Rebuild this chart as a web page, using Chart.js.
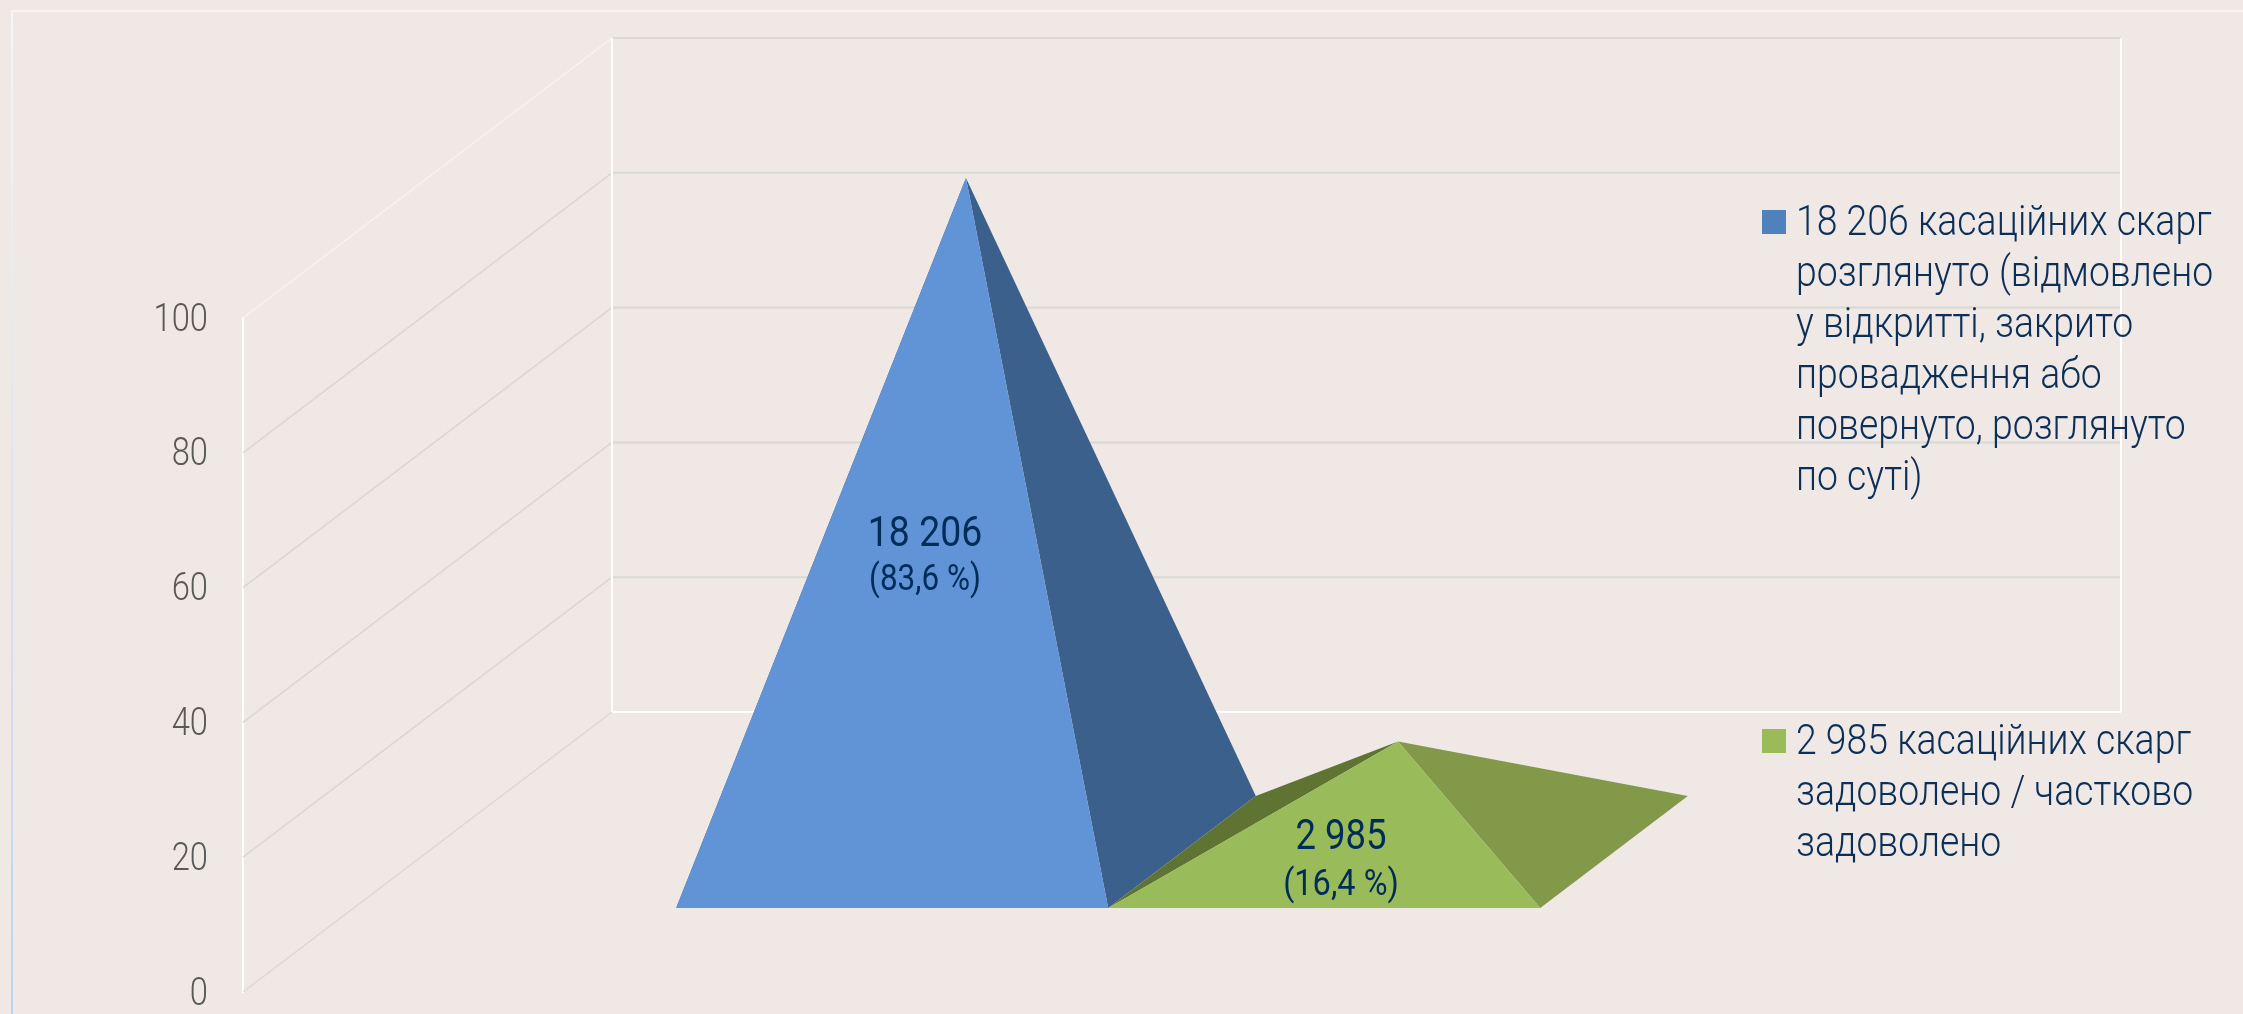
<!DOCTYPE html>
<html>
<head>
<meta charset="utf-8">
<title>Касаційні скарги</title>
<script src="https://cdn.jsdelivr.net/npm/chart.js@4/dist/chart.umd.min.js"></script>
<style>
    html, body { margin: 0; padding: 0; background: #efe8e5; }
    canvas { display: block; }
</style>
</head>
<body>
<canvas id="myChart" width="2243" height="1014"></canvas>
<script>
// ------------
// - Data -
// ------------
const categories = ["Касаційні скарги"];
const seriesHeights = [100, 16.4];
const seriesCounts = ["18 206", "2 985"];
const seriesShares = ["(83,6 %)", "(16,4 %)"];
const tickLabels = [0, 20, 40, 60, 80, 100];
const legendLines = [
    ["18 206 касаційних скарг", "розглянуто (відмовлено", "у відкритті, закрито", "провадження або", "повернуто, розглянуто", "по суті)"],
    ["2 985 касаційних скарг", "задоволено / частково", "задоволено"]
];

// ------------
// - Styles -
// ------------
const faceColors = [
    { front: "#6094d6", right: "#3b608c", left: "#3b608c", key: "#4f81bd" },
    { front: "#9abb59", right: "#82994a", left: "#5f7332", key: "#9bbb59" }
];
const wall = { dx: 369, dy: -280, right: 2121 };  // depth of the 3D box
const textColor = "#0c2f58";
const gridColor = "#d8d8d4";

function path(ctx, pts, color) {
    ctx.fillStyle = color;
    ctx.beginPath();
    ctx.moveTo(pts[0][0], pts[0][1]);
    pts.slice(1).forEach(function (p) { ctx.lineTo(p[0], p[1]); });
    ctx.closePath();
    ctx.fill();
}

function line(ctx, x1, y1, x2, y2, color, width) {
    ctx.strokeStyle = color;
    ctx.lineWidth = width;
    ctx.beginPath();
    ctx.moveTo(x1, y1);
    ctx.lineTo(x2, y2);
    ctx.stroke();
}

// squeeze stands in for a condensed face
function narrowText(ctx, str, x, y, squeeze) {
    ctx.fillText(str, x, y, ctx.measureText(str).width * squeeze);
}

// draws the frame, the 3D walls and the pyramids from the scales
const pyramids = {
    id: "pyramids",
    beforeDatasetsDraw: function (chart) {
        const ctx = chart.ctx;
        const yScale = chart.scales.y;
        const x0 = chart.chartArea.left;
        const bx = x0 + wall.dx;

        ctx.save();
        // outer frame
        const grad = ctx.createLinearGradient(0, 0, 0, 1014);
        grad.addColorStop(0, "#f6f5f6");
        grad.addColorStop(1, "#bcd4f0");
        line(ctx, 12, 11, 2243, 11, "#f6f5f6", 2);
        line(ctx, 12, 10, 12, 1014, grad, 2);

        // walls
        yScale.ticks.forEach(function (t) {
            const py = yScale.getPixelForValue(t.value);
            const isTop = t.value === yScale.max;
            const isFloor = t.value === yScale.min;
            line(ctx, x0, py, bx, py + wall.dy, isTop ? "#f6f4f3" : gridColor, isTop || isFloor ? 1.2 : 1.6);
            line(ctx, bx, py + wall.dy, wall.right, py + wall.dy, isFloor ? "#ffffff" : gridColor, 2);
        });
        const wallTop = yScale.getPixelForValue(yScale.max) + wall.dy;
        const wallBottom = yScale.getPixelForValue(yScale.min) + wall.dy;
        line(ctx, bx, wallTop, bx, wallBottom, "#ffffff", 2);
        line(ctx, wall.right, wallTop, wall.right, wallBottom, "#ffffff", 2);

        // pyramids sit between 30% and 70% of the depth
        chart.data.datasets.forEach(function (ds, i) {
            const bar = chart.getDatasetMeta(i).data[0];
            const c = faceColors[i];
            const ox = wall.dx * 0.3, oy = wall.dy * 0.3;
            const depthX = wall.dx * 0.4, depthY = wall.dy * 0.4;
            const l = bar.x - bar.width / 2 + ox;
            const r = bar.x + bar.width / 2 + ox;
            const base = bar.base + oy;
            const apex = [bar.x + ox + depthX / 2, bar.y + oy + depthY / 2];
            path(ctx, [[l, base], [l + depthX, base + depthY], apex], c.left);
            path(ctx, [[r, base], [r + depthX, base + depthY], apex], c.right);
            path(ctx, [[l, base], [r, base], apex], c.front);
        });
        ctx.restore();
    },
    afterDatasetsDraw: function (chart) {
        const ctx = chart.ctx;
        const yScale = chart.scales.y;
        ctx.save();

        // axis labels, the built in ones cannot be narrowed
        ctx.textBaseline = "middle";
        ctx.textAlign = "right";
        ctx.fillStyle = "#595959";
        ctx.font = "300 38px Roboto";
        yScale.ticks.forEach(function (t) {
            narrowText(ctx, String(t.value), 208, yScale.getPixelForValue(t.value) + 3, 0.86);
        });

        ctx.textBaseline = "alphabetic";

        // value labels on the pyramids
        const labelPos = [
            { x: 925, y1: 546, y2: 590, s1: 0.87, s2: 0.85 },
            { x: 1341, y1: 849, y2: 895, s1: 0.85, s2: 0.88 }
        ];
        ctx.textAlign = "center";
        ctx.fillStyle = "#002c5a";
        seriesCounts.forEach(function (s, i) {
            ctx.font = "400 43px Roboto";
            narrowText(ctx, s, labelPos[i].x, labelPos[i].y1, labelPos[i].s1);
            ctx.font = "400 37px Roboto";
            narrowText(ctx, seriesShares[i], labelPos[i].x, labelPos[i].y2, labelPos[i].s2);
        });

        // legend on the right
        const legendPos = [{ box: 210, text: 235 }, { box: 729, text: 754 }];
        ctx.textAlign = "left";
        legendLines.forEach(function (lines, i) {
            ctx.fillStyle = faceColors[i].key;
            ctx.fillRect(1762, legendPos[i].box, 24, 24);
            ctx.fillStyle = textColor;
            ctx.font = "300 42px Roboto";
            lines.forEach(function (txt, n) {
                narrowText(ctx, txt, 1796, legendPos[i].text + n * 51, 0.89);
            });
        });
        ctx.restore();
    }
};

var ctx = document.getElementById("myChart");

var myChart = new Chart(ctx, {
    type: "bar",
    data: {
        labels: categories,
        datasets: seriesHeights.map(function (v, i) {
            return {
                label: legendLines[i].join(" "),
                data: [v],
                backgroundColor: "rgba(0,0,0,0)",
                barPercentage: 1,
                categoryPercentage: 0.5726
            };
        })
    },
    options: {
        responsive: false,
        animation: false,
        layout: { autoPadding: false, padding: { left: 0, right: 491, top: 318, bottom: 22 } },
        plugins: { legend: { display: false }, tooltip: { enabled: false } },
        scales: {
            x: { display: false },
            y: {
                min: tickLabels[0],
                max: tickLabels[tickLabels.length - 1],
                afterFit: function (scale) { scale.width = 243; },
                ticks: { stepSize: tickLabels[1] - tickLabels[0], display: false },
                grid: { display: false },
                border: { color: "#ffffff", width: 2 }
            }
        }
    },
    plugins: [pyramids]
});
</script>
</body>
</html>
